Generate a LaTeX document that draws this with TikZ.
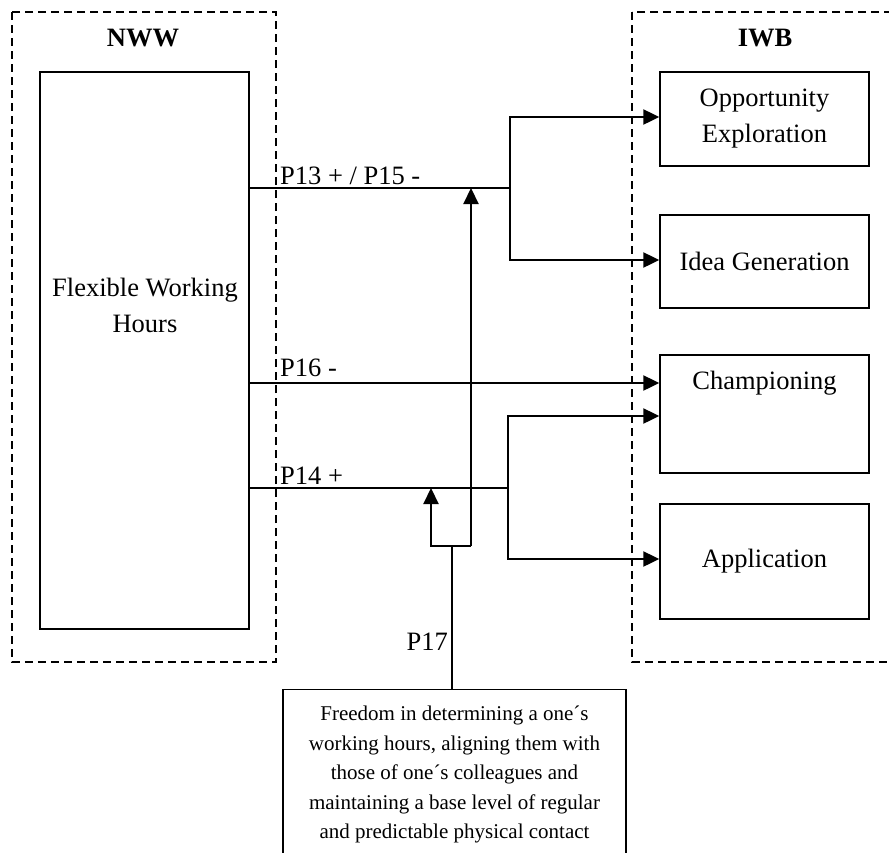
\documentclass[tikz,border=0pt]{standalone}
\usepackage{fontspec}
\setmainfont{Liberation Serif}
\usetikzlibrary{positioning,arrows.meta,calc}

\begin{document}
\begin{tikzpicture}[
  x=1pt, y=-1pt,
  every node/.style = {font=\fontsize{26.5}{36}\selectfont},
  group/.style   = {draw, line width=1.6pt, dash pattern=on 8pt off 5pt},
  box/.style     = {rectangle, draw, line width=1.4pt, inner sep=0pt},
  txt/.style     = {align=center, inner sep=0pt},
  head/.style    = {font=\fontsize{26.5}{30}\selectfont\bfseries},
  thin/.style    = {line width=1.1pt},
  arr/.style     = {-{Triangle[length=16pt,width=15pt]}, line width=2.2pt},
  lbl/.style     = {anchor=base west, inner sep=0pt},
]
\clip (0,0) rectangle (889,852);
% dashed groups
\draw[group] (12,12) rectangle (276,662);
\draw[group] (632,12) rectangle (905,662);
\node[head] (nww) at (143,38) {NWW};
\node[head] (iwb) at (765,38) {IWB};
% boxes
\node[box, minimum width=209pt, minimum height=557pt] (fwh)   at (144.5,350.5) {};
\node[txt] (fwhtxt) at (145,305) {Flexible Working\\Hours};
\node[box, minimum width=209pt, minimum height=94pt, txt] (opp) at (764.5,119)
  {Opportunity\\Exploration};
\node[box, minimum width=209pt, minimum height=93pt, txt] (idea) at (764.5,261.5)
  {Idea Generation};
\node[box, minimum width=209pt, minimum height=118pt] (champ) at (764.5,414) {};
\node[txt] (champtxt) at (764.5,383) {Championing};
\node[box, minimum width=209pt, minimum height=115pt, txt] (app) at (764.5,561.5)
  {Application};
\node[box, minimum width=343pt, minimum height=200pt, anchor=north] (free) at (454.5,689) {};
\node[txt, anchor=north, font=\fontsize{21}{29.5}\selectfont] (freetxt) at (454.5,706)
  {Freedom in determining a one´s\\working hours, aligning them with\\those of one´s colleagues and\\maintaining a base level of regular\\and predictable physical contact};
% junctions
\coordinate (ja) at (510,188);
\coordinate (jb) at (508,488);
\coordinate (ma) at (471,546);
\coordinate (mb) at (431,546);
\coordinate (mc) at (452,546);
% P13 / P15
\draw[thin] (fwh.east |- ja) -- (ja);
\draw[arr] (ja) |- (opp.west |- 0,117);
\draw[arr] (ja) |- (idea.west |- 0,260);
\node[lbl] (p13) at (280,184) {P13 + / P15 -};
% P16
\draw[arr] (fwh.east |- champtxt) -- (champ.west |- champtxt);
\node[lbl] (p16) at (280,376) {P16 -};
% P14
\draw[thin] (fwh.east |- jb) -- (jb);
\draw[arr] (jb) |- (champ.west |- 0,416);
\draw[arr] (jb) |- (app.west |- 0,559);
\node[lbl] (p14) at (280,484) {P14 +};
% P17
\draw[arr] (ma) -- (ma |- ja);
\draw[arr] (ma) -- (mb) -- (mb |- jb);
\draw[thin] (mc) -- (free.north -| mc);
\node[anchor=base east, inner sep=0pt] (p17) at (448,650) {P17};
\end{tikzpicture}
\end{document}
